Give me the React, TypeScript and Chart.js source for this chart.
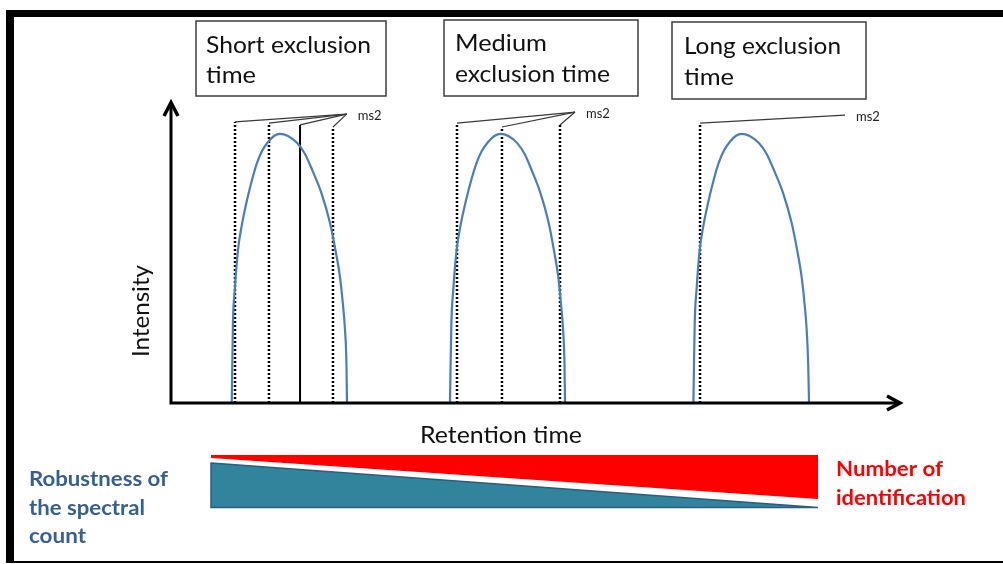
import React, { useEffect, useRef } from "react";
import { Chart, registerables } from "chart.js";

Chart.register(...registerables);

// Retention time (x) and intensity (y) of the three chromatographic peaks
const peak1Time = [8.33, 8.4, 8.5, 8.75, 9.19, 9.67, 10.43, 11.11, 11.8, 12.48, 13.31, 14.13, 14.95,
  16.05, 17.28, 18.38, 19.48, 20.58, 21.81, 22.63, 23.18, 23.59, 23.87, 24.07, 24.14];
const peak1Int = [0, 11.0, 26.8, 37.8, 51.2, 58.9, 67.9, 74.6, 80.3, 84.3, 87.3, 89.3, 90.0,
  89.3, 87.0, 83.3, 77.3, 70.6, 60.2, 50.2, 42.1, 32.8, 24.4, 12.7, 0];
const peak2Time = [38.27, 38.34, 38.46, 38.72, 39.18, 39.68, 40.48, 41.19, 41.92, 42.63, 43.5, 44.36, 45.23,
  46.28, 47.46, 48.51, 49.57, 50.62, 51.81, 52.59, 53.13, 53.51, 53.79, 53.98, 54.05];
const peak2Int = [0, 11.0, 26.8, 37.8, 51.2, 58.9, 67.9, 74.6, 80.3, 84.3, 87.3, 89.3, 90.0,
  89.3, 87.0, 83.3, 77.3, 70.6, 60.2, 50.2, 42.1, 32.8, 24.4, 12.7, 0];
const peak3Time = [71.66, 71.73, 71.84, 72.09, 72.52, 73.0, 73.76, 74.44, 75.13, 75.82, 76.64, 77.46, 78.28,
  79.38, 80.61, 81.71, 82.81, 83.91, 85.14, 85.96, 86.51, 86.92, 87.2, 87.41, 87.52];
const peak3Int = [0, 11.0, 26.8, 37.8, 51.2, 58.9, 67.9, 74.6, 80.3, 84.3, 87.3, 89.3, 90.0,
  89.3, 87.0, 83.3, 77.3, 70.6, 60.2, 50.2, 42.1, 32.8, 24.4, 12.7, 0];

// MS2 events (retention times, heights of marker tops, solid or dotted)
const ms2Times1 = [8.78, 13.44, 17.7, 22.22];
const ms2Tops1 = [94.0, 93.6, 93.0, 92.3];
const ms2Solid1 = [false, false, true, false];
const ms2Tip1 = [24.1, 96.6];

const ms2Times2 = [39.23, 45.4, 53.36];
const ms2Tops2 = [93.6, 92.3, 93.0];
const ms2Solid2 = [false, false, false];
const ms2Tip2 = [55.42, 97.3];

const ms2Times3 = [72.57];
const ms2Tops3 = [93.6];
const ms2Solid3 = [false];
const ms2Tip3 = [92.46, 96.3];

const boxTitles = [
  ["Short exclusion", "time"],
  ["Medium", "exclusion time"],
  ["Long exclusion", "time"],
];
const leftLabel = ["Robustness of", "the spectral", "count"];
const rightLabel = ["Number of", "identification"];
const xTitle = "Retention time";
const yTitle = "Intensity";
const ms2Label = "ms2";

const FONT = "Lato, 'Open Sans', sans-serif";
const PEAK_COLOR = "#4A7EBB";

function fitText(ctx: CanvasRenderingContext2D, text: string, x: number, y: number, width: number, font: string, color: string, rotate = 0) {
  ctx.save();
  ctx.font = font;
  ctx.fillStyle = color;
  ctx.textAlign = "left";
  ctx.textBaseline = "alphabetic";
  const w = ctx.measureText(text).width;
  ctx.translate(x, y);
  if (rotate) ctx.rotate(rotate);
  ctx.scale(width / w, 1);
  ctx.fillText(text, 0, 0);
  ctx.restore();
}

function buildDatasets() {
  const ds: any[] = [];
  const peaks = [
    [peak1Time, peak1Int],
    [peak2Time, peak2Int],
    [peak3Time, peak3Int],
  ];
  peaks.forEach(([t, v]) => {
    ds.push({
      data: t.map((x, i) => ({ x, y: v[i] })),
      borderColor: PEAK_COLOR,
      borderWidth: 2.2,
      showLine: true,
      pointRadius: 0,
      cubicInterpolationMode: "monotone",
      clip: false,
    });
  });
  const groups = [
    [ms2Times1, ms2Tops1, ms2Solid1, ms2Tip1],
    [ms2Times2, ms2Tops2, ms2Solid2, ms2Tip2],
    [ms2Times3, ms2Tops3, ms2Solid3, ms2Tip3],
  ] as any[];
  groups.forEach(([times, tops, solid, tip]) => {
    times.forEach((t: number, i: number) => {
      ds.push({
        data: [{ x: t, y: 0 }, { x: t, y: tops[i] }],
        borderColor: "#000",
        borderWidth: solid[i] ? 2 : 2.5,
        borderDash: solid[i] ? [] : [2, 2],
        showLine: true,
        pointRadius: 0,
        clip: false,
      });
      ds.push({
        data: [{ x: t, y: tops[i] }, { x: tip[0], y: tip[1] }],
        borderColor: "#3a3a3a",
        borderWidth: 1.2,
        showLine: true,
        pointRadius: 0,
        clip: false,
      });
    });
  });
  return { ds, tips: [ms2Tip1, ms2Tip2, ms2Tip3] };
}

export default function App() {
  const ref = useRef<HTMLCanvasElement>(null);
  useEffect(() => {
    if (!ref.current) return;
    const { ds, tips } = buildDatasets();
    const decor = {
      id: "decor",
      beforeDraw(chart: any) {
        const ctx: CanvasRenderingContext2D = chart.ctx;
        ctx.save();
        ctx.fillStyle = "#fff";
        ctx.fillRect(0, 0, chart.width, chart.height);
        // frame
        ctx.fillStyle = "#000";
        ctx.fillRect(7, 10, 996, 7);
        ctx.fillRect(6, 10, 8, 553);
        ctx.fillRect(6, 561, 997, 2);
        // title boxes
        const boxes = [
          [196, 21, 190, 75],
          [444, 20, 194, 76],
          [672, 22, 194, 77],
        ];
        const lines = [
          [[206, 53, 165], [206, 83, 50]],
          [[455, 51, 92], [455, 82, 155]],
          [[684, 54, 157], [684, 85, 50]],
        ];
        boxes.forEach((b, i) => {
          ctx.fillStyle = "#fff";
          ctx.fillRect(b[0], b[1], b[2], b[3]);
          ctx.strokeStyle = "#3c3c3c";
          ctx.lineWidth = 1.5;
          ctx.strokeRect(b[0], b[1], b[2], b[3]);
          boxTitles[i].forEach((txt, j) => {
            const l = lines[i][j];
            fitText(ctx, txt, l[0], l[1], l[2], `24px ${FONT}`, "#111");
          });
        });
        // axis titles
        fitText(ctx, xTitle, 420, 443, 162, `23px ${FONT}`, "#111");
        fitText(ctx, yTitle, 149, 357, 92, `23px ${FONT}`, "#111", -Math.PI / 2);
        // wedges
        ctx.fillStyle = "#FF0000";
        ctx.beginPath();
        ctx.moveTo(211, 455);
        ctx.lineTo(818, 455);
        ctx.lineTo(818, 499);
        ctx.lineTo(211, 458);
        ctx.closePath();
        ctx.fill();
        ctx.fillStyle = "#31849B";
        ctx.strokeStyle = "#2B5C82";
        ctx.lineWidth = 1.5;
        ctx.beginPath();
        ctx.moveTo(211, 463);
        ctx.lineTo(818, 507.5);
        ctx.lineTo(211, 507.5);
        ctx.closePath();
        ctx.fill();
        ctx.stroke();
        // side labels
        const lw = [139, 116, 57];
        leftLabel.forEach((t, i) => {
          fitText(ctx, t, 29, 486 + i * 28.5, lw[i], `bold 20px ${FONT}`, "#376092");
        });
        const rw = [107, 130];
        rightLabel.forEach((t, i) => {
          fitText(ctx, t, 836, 476 + i * 29, rw[i], `bold 20px ${FONT}`, "#FF0000");
        });
        ctx.restore();
      },
      afterDatasetsDraw(chart: any) {
        const ctx: CanvasRenderingContext2D = chart.ctx;
        const xs = chart.scales.x;
        const ys = chart.scales.y;
        const x0 = xs.getPixelForValue(0);
        const y0 = ys.getPixelForValue(0);
        const xEnd = xs.getPixelForValue(100);
        const yEnd = ys.getPixelForValue(100);
        ctx.save();
        ctx.strokeStyle = "#000";
        ctx.lineWidth = 3;
        ctx.lineCap = "butt";
        ctx.beginPath();
        ctx.moveTo(x0, y0 + 1.5);
        ctx.lineTo(x0, yEnd - 1);
        ctx.moveTo(x0 - 1.5, y0);
        ctx.lineTo(xEnd - 1, y0);
        ctx.stroke();
        ctx.lineWidth = 3.5;
        ctx.lineJoin = "miter";
        ctx.beginPath();
        ctx.moveTo(x0 - 7, yEnd + 12);
        ctx.lineTo(x0, yEnd - 1.5);
        ctx.lineTo(x0 + 7, yEnd + 12);
        ctx.stroke();
        ctx.beginPath();
        ctx.moveTo(xEnd - 13, y0 - 7);
        ctx.lineTo(xEnd, y0);
        ctx.lineTo(xEnd - 13, y0 + 7);
        ctx.stroke();
        // ms2 labels
        ctx.font = `13px ${FONT}`;
        ctx.fillStyle = "#222";
        ctx.textBaseline = "middle";
        tips.forEach((tp) => {
          ctx.fillText(ms2Label, xs.getPixelForValue(tp[0]) + 11, ys.getPixelForValue(tp[1]) + 2);
        });
        ctx.restore();
      },
    };
    const chart = new Chart(ref.current, {
      type: "scatter",
      data: { datasets: ds },
      options: {
        responsive: false,
        animation: false,
        events: [],
        layout: { padding: { left: 171, right: 103, top: 104, bottom: 161 } },
        scales: {
          x: { type: "linear", min: 0, max: 100, display: false },
          y: { type: "linear", min: 0, max: 100, display: false },
        },
        plugins: { legend: { display: false }, tooltip: { enabled: false } },
      },
      plugins: [decor],
    });
    return () => chart.destroy();
  }, []);
  return (
    <div style={{ position: "fixed", left: 0, top: 0, width: 1003, height: 564, background: "#fff" }}>
      <canvas ref={ref} width={1003} height={564} style={{ width: 1003, height: 564, display: "block" }} />
    </div>
  );
}
